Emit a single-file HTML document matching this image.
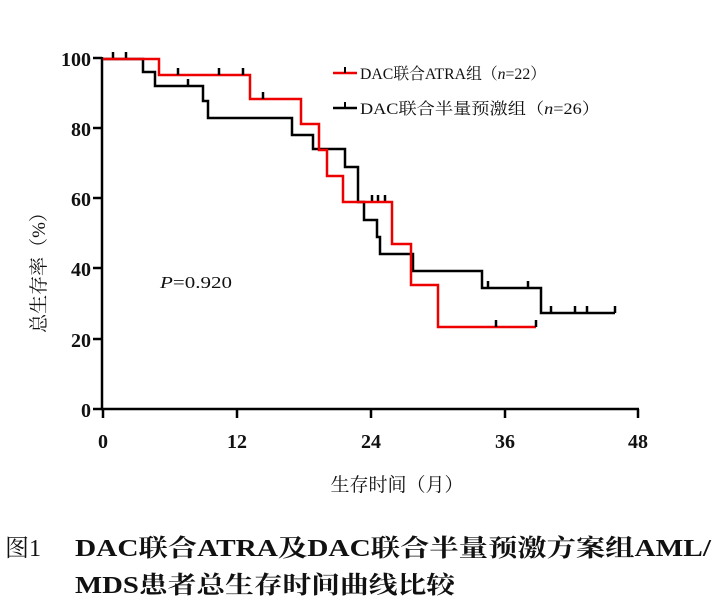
<!DOCTYPE html>
<html><head><meta charset="utf-8"><style>
html,body{margin:0;padding:0;background:#fff;}
svg{display:block;}
.t{font-family:"Liberation Serif","Noto Serif CJK SC",serif;font-weight:bold;fill:#111;}
.c{font-family:"Liberation Serif","Noto Serif CJK SC",serif;fill:#111;}
</style></head><body>
<svg width="724" height="607" viewBox="0 0 724 607" xmlns="http://www.w3.org/2000/svg">
<g stroke="#000" stroke-width="2.5" fill="none">
<line x1="102" y1="57" x2="102" y2="410"/>
<line x1="101" y1="409" x2="639" y2="409"/>
<line x1="93" y1="58" x2="102" y2="58"/>
<line x1="93" y1="128" x2="102" y2="128"/>
<line x1="93" y1="198" x2="102" y2="198"/>
<line x1="93" y1="268" x2="102" y2="268"/>
<line x1="93" y1="339" x2="102" y2="339"/>
<line x1="93" y1="409" x2="102" y2="409"/>
<line x1="103" y1="409" x2="103" y2="418"/>
<line x1="237" y1="409" x2="237" y2="418"/>
<line x1="371" y1="409" x2="371" y2="418"/>
<line x1="505" y1="409" x2="505" y2="418"/>
<line x1="638" y1="409" x2="638" y2="418"/>
</g>
<g class="t" font-size="20" text-anchor="end">
<text x="91" y="66">100</text><text x="91" y="136">80</text><text x="91" y="206">60</text>
<text x="91" y="276">40</text><text x="91" y="347">20</text><text x="91" y="417">0</text>
</g>
<g class="t" font-size="20" text-anchor="middle">
<text x="103" y="448">0</text><text x="237" y="448">12</text><text x="371" y="448">24</text>
<text x="505" y="448">36</text><text x="638" y="448">48</text>
</g>
<text class="c" x="397" y="491" font-size="19" text-anchor="middle">生存时间（月）</text>
<text class="c" font-size="19" text-anchor="middle" transform="translate(45,268) rotate(-90)">总生存率（%）</text>
<text class="c" x="160" y="288" font-size="17" textLength="72" lengthAdjust="spacingAndGlyphs"><tspan font-style="italic">P</tspan>=0.920</text>
<polyline fill="none" stroke="#000" stroke-width="2.5" points="103,59 143,59 143,72 155,72 155,86 203,86 203,101 208,101 208,118 292,118 292,135 313,135 313,149 345,149 345,167 358,167 358,202 364,202 364,220 377,220 377,237 380,237 380,254 413,254 413,271 482,271 482,288 541,288 541,313 615,313"/>
<g stroke="#000" stroke-width="2.5">
<line x1="113" y1="52" x2="113" y2="59"/><line x1="126" y1="52" x2="126" y2="59"/>
<line x1="188" y1="79" x2="188" y2="86"/>
<line x1="372" y1="195" x2="372" y2="202"/><line x1="378" y1="195" x2="378" y2="202"/><line x1="385" y1="195" x2="385" y2="202"/>
<line x1="488" y1="281" x2="488" y2="288"/><line x1="528" y1="281" x2="528" y2="288"/>
<line x1="551" y1="306" x2="551" y2="313"/><line x1="575" y1="306" x2="575" y2="313"/><line x1="587" y1="306" x2="587" y2="313"/><line x1="615" y1="306" x2="615" y2="313"/>
</g>
<polyline fill="none" stroke="#e00" stroke-width="2.5" points="103,59 159,59 159,75 250,75 250,99 301,99 301,124 319,124 319,150 327,150 327,176 343,176 343,202 392,202 392,244 411,244 411,285 438,285 438,327 536,327"/>
<g stroke="#000" stroke-width="2.5">
<line x1="178" y1="68" x2="178" y2="75"/><line x1="219" y1="68" x2="219" y2="75"/><line x1="243" y1="68" x2="243" y2="75"/>
<line x1="263" y1="92" x2="263" y2="99"/>
<line x1="496" y1="320" x2="496" y2="327"/><line x1="536" y1="320" x2="536" y2="327"/>
</g>
<line x1="333" y1="73" x2="357" y2="73" stroke="#e00" stroke-width="2.5"/>
<line x1="345" y1="67" x2="345" y2="73" stroke="#000" stroke-width="2"/>
<text class="c" x="360" y="79" font-size="16" textLength="186" lengthAdjust="spacingAndGlyphs">DAC联合ATRA组（<tspan font-style="italic">n</tspan>=22）</text>
<line x1="333" y1="108" x2="357" y2="108" stroke="#000" stroke-width="2.5"/>
<line x1="345" y1="102" x2="345" y2="108" stroke="#000" stroke-width="2"/>
<text class="c" x="360" y="114" font-size="16" textLength="240" lengthAdjust="spacingAndGlyphs">DAC联合半量预激组（<tspan font-style="italic">n</tspan>=26）</text>
<text class="c" x="5" y="556" font-size="24">图1</text>
<text class="t" x="75" y="556" font-size="24" textLength="636" lengthAdjust="spacingAndGlyphs">DAC联合ATRA及DAC联合半量预激方案组AML/</text>
<text class="t" x="75" y="593" font-size="24" textLength="380" lengthAdjust="spacingAndGlyphs">MDS患者总生存时间曲线比较</text>
</svg>
</body></html>
